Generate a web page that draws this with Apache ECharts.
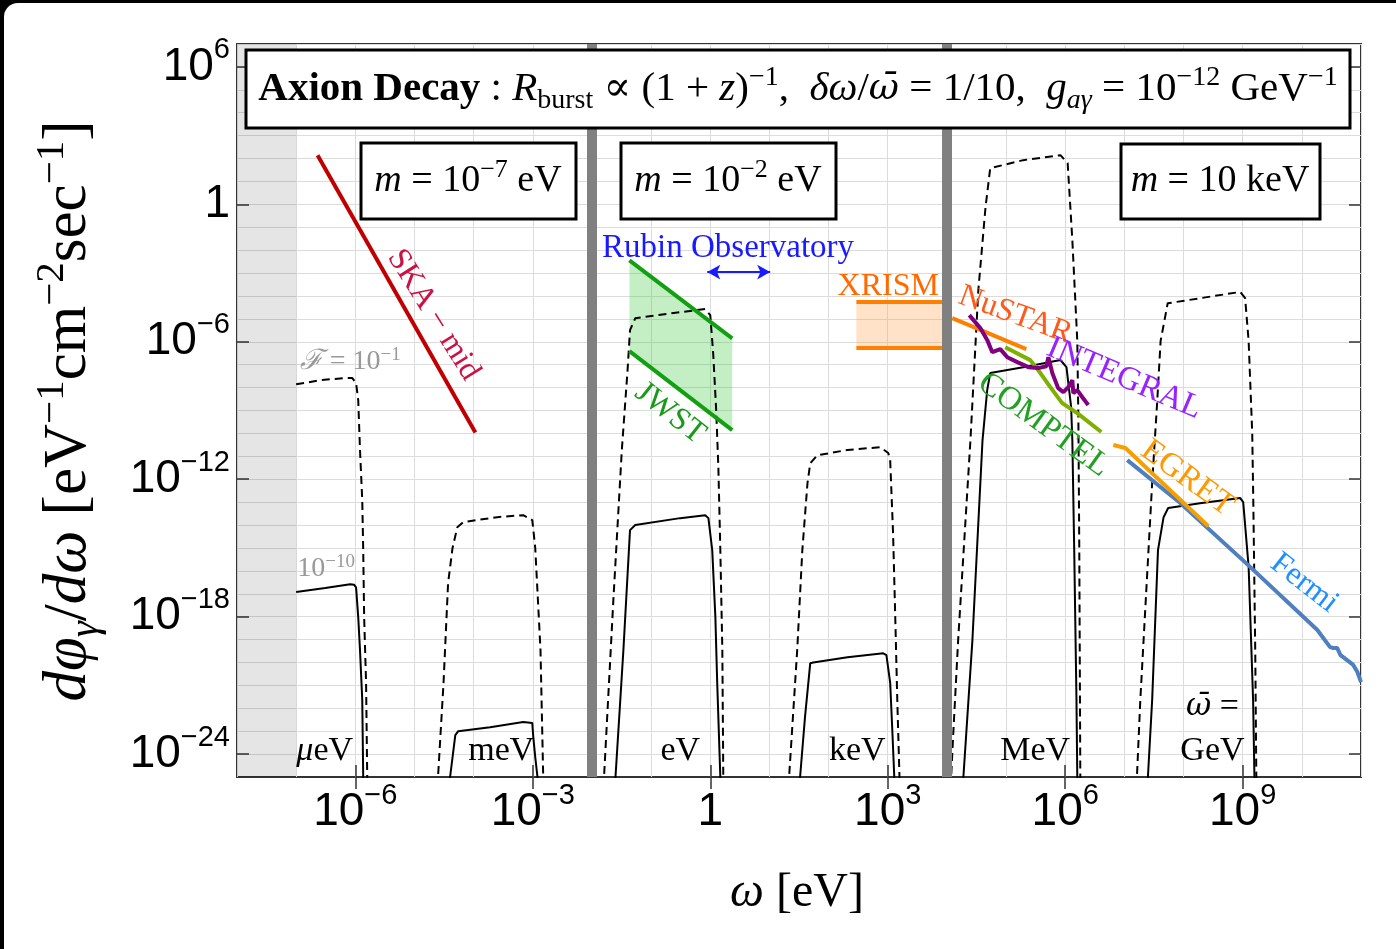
<!DOCTYPE html>
<html><head><meta charset="utf-8">
<script src="https://cdn.jsdelivr.net/npm/echarts@6/dist/echarts.min.js"></script>
<style>
html,body{margin:0;padding:0;background:#000;width:1396px;height:949px;overflow:hidden}
#card{position:absolute;left:4px;top:3px;width:1420px;height:980px;background:#fff;border-radius:14px}
#chart{position:absolute;left:0;top:0;width:1396px;height:949px}
</style></head><body><div id="card"></div><div id="chart"></div>
<script>
// ---------------- data ----------------
const xTicks = [1e-6, 1e-3, 1, 1e3, 1e6, 1e9];
const yTicks = [1e6, 1, 1e-6, 1e-12, 1e-18, 1e-24];
const xRange = [1e-8, 1e11];
const yRange = [1e-25, 1e7];
const excludedBand = [1e-8, 1e-7];
const massDividers = [1e-2, 1e4];

// F = 1e-10 (solid) and F = 1e-1 (dashed) spectra for each mean energy
const ueV_solid = [[1e-7,1.2e-17],[3.1e-7,1.8e-17],[8.2e-7,2.6e-17],[9.5e-7,2.5e-17],[1.03e-6,1.9e-17],[1.12e-6,9.5e-19],[1.2e-6,3.5e-20],[1.31e-6,2.3e-22],[1.36e-6,1e-25],[1.4e-6,1e-26]];
const ueV_dashed = [[1e-7,1.4e-8],[2.6e-7,2.1e-8],[6.3e-7,2.6e-8],[8.9e-7,2.6e-8],[1.03e-6,1.6e-8],[1.12e-6,2.8e-9],[1.2e-6,1.9e-11],[1.31e-6,1.2e-13],[1.36e-6,8e-16],[1.41e-6,9.5e-19],[1.52e-6,1.3e-21],[1.59e-6,1e-25],[1.62e-6,1e-26]];
const meV_solid = [[3.9e-5,1e-26],[4.0e-5,1e-25],[4.9e-5,6.7e-24],[5.5e-5,1e-23],[1.9e-4,1.5e-23],[6.9e-4,2.5e-23],[9.8e-4,2.3e-23],[1.02e-3,5.5e-24],[1.1e-3,7.4e-25],[1.2e-3,1e-25],[1.22e-3,1e-26]];
const meV_dashed = [[2.4e-5,1e-26],[2.5e-5,1e-25],[3.1e-5,1.3e-21],[3.7e-5,2.9e-17],[4.4e-5,1e-15],[5.3e-5,8e-15],[6.7e-5,1.35e-14],[2.5e-4,2.2e-14],[6.9e-4,2.7e-14],[9.8e-4,1.65e-14],[1.1e-3,1e-15],[1.35e-3,3.5e-20],[1.5e-3,1e-25],[1.53e-3,1e-26]];
const eV_solid = [[2.45e-2,1e-26],[2.5e-2,1e-25],[3.4e-2,3.4e-20],[4.4e-2,6e-15],[5.4e-2,1e-14],[0.31,2e-14],[0.82,2.7e-14],[0.93,2e-14],[1.08,8e-16],[1.22,9.5e-19],[1.31,1.3e-21],[1.48,1e-25],[1.5,1e-26]];
const eV_dashed = [[1.55e-2,1e-26],[1.6e-2,1e-25],[2.3e-2,5.2e-18],[3.2e-2,1.9e-11],[4.0e-2,5.8e-8],[4.4e-2,3.2e-6],[5.4e-2,1.07e-5],[0.24,1.8e-5],[0.82,2.7e-5],[1.0,1.45e-5],[1.12,3.2e-7],[1.26,1e-9],[1.37,3.4e-12],[1.48,8e-16],[1.6,3.5e-20],[1.66,1e-25],[1.7,1e-26]];
const keV_solid = [[32,1e-26],[33,1e-25],[40,4.3e-23],[49,9.3e-21],[55,1e-20],[209,1.7e-20],[840,2.5e-20],[950,2.1e-20],[1100,1.3e-21],[1200,8.3e-24],[1290,1e-25],[1310,1e-26]];
const keV_dashed = [[21,1e-26],[21.5,1e-25],[29.5,3.5e-20],[36,8e-16],[44,6.8e-13],[49,5e-12],[64,1.1e-11],[209,1.9e-11],[750,2.5e-11],[1020,1.4e-11],[1100,6.8e-12],[1230,4.5e-15],[1340,9.5e-19],[1450,2.3e-22],[1580,1e-25],[1600,1e-26]];
const MeV_solid = [[1.85e4,1e-26],[1.9e4,1e-25],[2.7e4,9.5e-20],[4.0e4,5e-11],[4.8e4,7.8e-9],[5.4e4,4.3e-8],[1.95e5,7.8e-8],[8.3e5,1.6e-7],[1.05e6,7.8e-8],[1.26e6,1.4e-9],[1.32e6,5e-11],[1.42e6,8e-16],[1.55e6,2.3e-22],[1.6e6,1e-25],[1.62e6,1e-26]];
const MeV_dashed = [[1.15e4,1e-26],[1.18e4,1e-25],[1.29e4,1.1e-23],[1.55e4,9.5e-20],[2.5e4,5e-11],[3.4e4,1.8e-4],[4.5e4,0.76],[5.4e4,38],[1.95e5,85],[8.3e5,140],[1.1e6,63],[1.32e6,0.027],[1.6e6,1.1e-6],[1.67e6,3.8e-10],[1.73e6,8e-16],[1.8e6,1e-25],[1.82e6,1e-26]];
const GeV_solid = [[2.45e7,1e-26],[2.5e7,1e-25],[2.95e7,2.3e-22],[3.7e7,8e-16],[4.6e7,2.2e-14],[5.5e7,5.5e-14],[1.9e8,9e-14],[9.1e8,1.5e-13],[1.02e9,1e-13],[1.26e9,1.5e-16],[1.5e9,2.3e-22],[1.58e9,1e-25],[1.6e9,1e-26]];
const GeV_dashed = [[1.6e7,1e-26],[1.63e7,1e-25],[1.86e7,2.3e-22],[2.95e7,6.8e-13],[3.6e7,2.8e-9],[4.1e7,1.1e-6],[5.4e7,4.8e-5],[2.5e8,8.9e-5],[9.1e8,1.5e-4],[1.1e9,8e-5],[1.26e9,1.1e-6],[1.45e9,1e-10],[1.51e9,1.3e-13],[1.63e9,3.5e-20],[1.7e9,1e-25],[1.72e9,1e-26]];

// instrument sensitivities
const ska = [[2.3e-7,140],[1.07e-4,1.1e-10]];
const jwstUpper = [[0.043,3.6e-3],[2.35,1.4e-6]];
const jwstLower = [[0.043,3.9e-7],[2.35,1.4e-10]];
const rubinRange = [[0.89,1.1e-3],[10.3,1.1e-3]];
const xrismUpper = [[295,5.4e-5],[8300,5.4e-5]];
const xrismLower = [[295,5.3e-7],[8300,5.3e-7]];
const nustar = [[1.23e4,1.07e-5],[2.2e5,4.8e-7]];
const integral = [[2.39e4,1.46e-5],[3.67e4,3.96e-6],[4.82e4,1.18e-6],[5.85e4,3.5e-7],[8.0e4,4.8e-7],[1.05e5,2.1e-7],[1.55e5,1.29e-7],[2.38e5,7.8e-8],[3.5e5,7.1e-8],[4.8e5,8.6e-8],[5.2e5,2.1e-7],[6.05e5,4.3e-8],[7.6e5,9.5e-9],[9.3e5,6.3e-9],[1.13e6,1.05e-8],[1.32e6,2.1e-8],[1.37e6,5.7e-9],[1.6e6,7.8e-9],[1.95e6,3.8e-9],[2.45e6,1.74e-9]];
const comptel = [[9.7e4,5.8e-7],[2.57e5,1.58e-7],[3.8e5,4.3e-8],[5.6e5,1.05e-8],[8.9e5,2.1e-9],[1.6e6,7.7e-10],[4.07e6,1.15e-10]];
const egret = [[6.5e6,3.1e-11],[1.04e7,2.3e-11],[2.63e8,8.9e-15]];
const fermi = [[1.12e7,6.8e-12],[8.8e7,9.1e-14],[1.35e9,1.45e-16],[1.83e10,2.6e-19],[3.0e10,4.7e-20],[3.4e10,4.3e-20],[3.95e10,4.3e-20],[4.5e10,2.1e-20],[5.0e10,1.7e-20],[7.4e10,7.8e-21],[8.7e10,3.8e-21],[1e11,1.38e-21]];

// ---------------- styling / layout ----------------
const SERIF = '"Liberation Serif","DejaVu Serif",serif';
const SANS = '"Liberation Sans Narrow","Liberation Sans",Arial,sans-serif';
const BAR = '"DejaVu Serif",serif';

function makeRich(size, color, bold) {
  const pad = Math.round(size * 0.12);
  const small = Math.round(size * 0.68);
  const base = {color, textBorderWidth: 0, textBorderColor: 'transparent', textShadowBlur: 0};
  return {
    rm: Object.assign({fontFamily: SERIF, fontSize: size, padding: [pad, 0, pad, 0]}, base),
    it: Object.assign({fontFamily: SERIF, fontStyle: 'italic', fontSize: size, padding: [pad, 0, pad, 0]}, base),
    wb: Object.assign({fontFamily: BAR, fontStyle: 'italic', fontSize: Math.round(size * 0.9), padding: [pad, 0, pad, 0]}, base),
    bd: Object.assign({fontFamily: SERIF, fontWeight: 'bold', fontSize: bold || size, padding: [pad, 0, pad, 0]}, base),
    sp: Object.assign({fontFamily: SERIF, fontSize: small, verticalAlign: 'top'}, base),
    sb: Object.assign({fontFamily: SERIF, fontSize: small, verticalAlign: 'bottom'}, base),
    sbi: Object.assign({fontFamily: SERIF, fontStyle: 'italic', fontSize: small, verticalAlign: 'bottom'}, base)
  };
}

const tickRich = {
  nb: {fontFamily: SANS, fontSize: 46, color: '#000', padding: [8, 0, 8, 0]},
  ns: {fontFamily: SANS, fontSize: 29, color: '#000', verticalAlign: 'top'}
};
function powLabel(v) {
  const e = Math.round(Math.log10(v));
  if (e === 0) return '{nb|1}';
  return '{nb|10}{ns|' + (e < 0 ? '\u2212' + (-e) : String(e)) + '}';
}

const annotations = [
  {text: '{rm|SKA \u2212 mid}', at: [2.1e-5, 1.48e-5], rot: -58, color: '#cc1144', size: 32},
  {text: '{rm|Rubin Observatory}', at: [2.0, 1.2e-2], rot: 0, color: '#1a1aff', size: 33},
  {text: '{rm|JWST}', at: [0.21, 7.6e-10], rot: -38, color: '#1a9a1a', size: 32},
  {text: '{rm|XRISM}', at: [1020, 2.5e-4], rot: 0, color: '#ff6a00', size: 32},
  {text: '{rm|NuSTAR}', at: [1.44e5, 1.45e-5], rot: -20, color: '#ff5a1a', size: 32},
  {text: '{rm|INTEGRAL}', at: [1.0e7, 2.5e-8], rot: -23, color: '#9922ff', size: 33},
  {text: '{rm|COMPTEL}', at: [4.3e5, 2.3e-10], rot: -36, color: '#22a022', size: 33},
  {text: '{rm|EGRET}', at: [1.16e8, 1.1e-12], rot: -36, color: '#ff9900', size: 33},
  {text: '{rm|Fermi}', at: [1.1e10, 2.9e-17], rot: -38, color: '#1e90ff', size: 32},
  {text: '{it|\u2131}{rm| = 10}{sp|\u22121}', at: [8.2e-7, 1.3e-7], rot: 0, color: '#999999', size: 28},
  {text: '{rm|10}{sp|\u221210}', at: [3.2e-7, 1.2e-16], rot: 0, color: '#999999', size: 28},
  {text: '{it|\u03bc}{rm|eV}', at: [3.04e-7, 1.35e-24], rot: 0, color: '#000', size: 34},
  {text: '{rm|meV}', at: [2.93e-4, 1.35e-24], rot: 0, color: '#000', size: 34},
  {text: '{rm|eV}', at: [0.311, 1.35e-24], rot: 0, color: '#000', size: 34},
  {text: '{rm|keV}', at: [306, 1.35e-24], rot: 0, color: '#000', size: 34},
  {text: '{rm|MeV}', at: [3.1e5, 1.35e-24], rot: 0, color: '#000', size: 34},
  {text: '{rm|GeV}', at: [3.08e8, 1.35e-24], rot: 0, color: '#000', size: 34},
  {text: '{wb|\u03c9\u0304}{rm| =}', at: [3.08e8, 1.1e-22], rot: 0, color: '#000', size: 34}
];

function curve(data, dashed) {
  return {type: 'line', data, xAxisIndex: 0, yAxisIndex: 0, symbol: 'none', showSymbol: false,
    silent: true, z: 3, clip: true,
    lineStyle: {color: '#000', width: 2, type: dashed ? [8, 5] : 'solid'}};
}
function inst(data, color, width, z) {
  return {type: 'line', data, xAxisIndex: 0, yAxisIndex: 0, symbol: 'none', showSymbol: false,
    silent: true, z: z || 4, clip: true, lineStyle: {color, width: width || 4}};
}
function polyFill(points, color) {
  return {type: 'custom', xAxisIndex: 0, yAxisIndex: 0, silent: true, z: 2, clip: true,
    data: points, encode: {x: 0, y: 1},
    renderItem: (params, api) => params.dataIndex === 0 ? {
      type: 'polygon', shape: {points: points.map(p => api.coord(p))}, style: {fill: color}
    } : null};
}

const tickStyle = {show: true, inside: true, length: 12, lineStyle: {color: '#333', width: 1.5}};
function logAxis(range, extra) {
  return Object.assign({type: 'log', logBase: 10, min: range[0], max: range[1],
    axisLine: {show: false}, splitLine: {show: false}, axisTick: {show: false}, axisLabel: {show: false}}, extra);
}

const chart = echarts.init(document.getElementById('chart'), null, {renderer: 'canvas'});

const series = [
  {type: 'line', data: [], xAxisIndex: 0, yAxisIndex: 0, silent: true, z: 1,
    markArea: {silent: true, itemStyle: {color: 'rgba(0,0,0,0.1)'},
      data: [[{xAxis: excludedBand[0]}, {xAxis: excludedBand[1]}]]}},
  polyFill([...jwstUpper, ...jwstLower.slice().reverse()], 'rgba(60,200,60,0.3)'),
  polyFill([...xrismUpper, ...xrismLower.slice().reverse()], 'rgba(255,160,70,0.3)'),
  curve(ueV_solid, false), curve(ueV_dashed, true),
  curve(meV_solid, false), curve(meV_dashed, true),
  curve(eV_solid, false), curve(eV_dashed, true),
  curve(keV_solid, false), curve(keV_dashed, true),
  curve(MeV_solid, false), curve(MeV_dashed, true),
  curve(GeV_solid, false), curve(GeV_dashed, true),
  inst(ska, '#c00000'),
  inst(jwstUpper, '#12a012'), inst(jwstLower, '#12a012'),
  inst(xrismUpper, '#ff8000'), inst(xrismLower, '#ff8000'),
  inst(nustar, '#ff8000'),
  inst(comptel, '#7fb000'),
  inst(integral, '#800080'),
  inst(fermi, '#4f7fbf'),
  inst(egret, '#f5a000', 4, 5),
  {type: 'scatter', xAxisIndex: 0, yAxisIndex: 0, silent: true, z: 6, symbolSize: 1,
    itemStyle: {color: 'rgba(0,0,0,0)'},
    labelLayout: {hideOverlap: false},
    data: annotations.map(a => ({value: a.at, label: {show: true, position: 'inside',
      formatter: () => a.text, rotate: a.rot, color: a.color, fontFamily: SERIF, fontSize: a.size,
      textBorderWidth: 0, textBorderColor: 'transparent', textShadowBlur: 0, opacity: 1,
      rich: makeRich(a.size, a.color)}})),
    markLine: {silent: true, symbol: 'none', label: {show: false},
      lineStyle: {color: '#808080', width: 10, type: 'solid'},
      data: massDividers.map(v => ({xAxis: v}))}},
  {type: 'line', data: [], xAxisIndex: 0, yAxisIndex: 0, silent: true, z: 6,
    markLine: {silent: true, symbol: ['arrow', 'arrow'], symbolSize: [11, 13], label: {show: false},
      lineStyle: {color: '#1a1aff', width: 2, type: 'solid'},
      data: [[{coord: rubinRange[0]}, {coord: rubinRange[1]}]]}}
];

const option = {
  animation: false,
  backgroundColor: 'transparent',
  grid: {left: 237, right: 35, top: 44, bottom: 172, show: true, borderColor: '#333', borderWidth: 2,
    backgroundColor: 'transparent', containLabel: false, outerBoundsMode: 'none'},
  xAxis: [
    logAxis(xRange, {position: 'bottom', axisTick: Object.assign({customValues: xTicks}, tickStyle),
      axisLabel: {show: true, customValues: xTicks, formatter: powLabel, rich: tickRich, margin: 4}}),
    logAxis(xRange, {position: 'top', axisTick: Object.assign({customValues: xTicks}, tickStyle)}),
    logAxis(xRange, {position: 'bottom', interval: 1, splitLine: {show: true, lineStyle: {color: '#dcdcdc', width: 1}}})
  ],
  yAxis: [
    logAxis(yRange, {position: 'left', axisTick: Object.assign({customValues: yTicks}, tickStyle),
      axisLabel: {show: true, customValues: yTicks, formatter: powLabel, rich: tickRich, margin: 7}}),
    logAxis(yRange, {position: 'right', axisTick: Object.assign({customValues: yTicks}, tickStyle)}),
    logAxis(yRange, {position: 'left', interval: 1, splitLine: {show: true, lineStyle: {color: '#dcdcdc', width: 1}}})
  ],
  series,
  graphic: [
    {type: 'rect', z: 100, shape: {x: 246, y: 50, width: 1104, height: 78}, style: {fill: '#fff', stroke: '#000', lineWidth: 3}},
    {type: 'text', z: 101, x: 798, y: 89, style: {align: 'center', verticalAlign: 'middle',
      text: '{bd|Axion Decay}{rm| : }{it|R}{sb|burst}{rm| \u221d (1 + }{it|z}{rm|)}{sp|\u22121}{rm|,  }{it|\u03b4\u03c9}{rm|/}{wb|\u03c9\u0304}{rm| = 1/10,  }{it|g}{sbi|a\u03b3}{rm| = 10}{sp|\u221212}{rm| GeV}{sp|\u22121}',
      rich: makeRich(41, '#000', 41)}},
    {type: 'rect', z: 100, shape: {x: 361, y: 143, width: 215, height: 76}, style: {fill: '#fff', stroke: '#000', lineWidth: 3}},
    {type: 'rect', z: 100, shape: {x: 621, y: 143, width: 215, height: 76}, style: {fill: '#fff', stroke: '#000', lineWidth: 3}},
    {type: 'rect', z: 100, shape: {x: 1121, y: 144, width: 199, height: 75}, style: {fill: '#fff', stroke: '#000', lineWidth: 3}},
    {type: 'text', z: 101, x: 468, y: 181, style: {align: 'center', verticalAlign: 'middle',
      text: '{it|m}{rm| = 10}{sp|\u22127}{rm| eV}', rich: makeRich(38, '#000')}},
    {type: 'text', z: 101, x: 728, y: 181, style: {align: 'center', verticalAlign: 'middle',
      text: '{it|m}{rm| = 10}{sp|\u22122}{rm| eV}', rich: makeRich(38, '#000')}},
    {type: 'text', z: 101, x: 1220, y: 181, style: {align: 'center', verticalAlign: 'middle',
      text: '{it|m}{rm| = 10 keV}', rich: makeRich(38, '#000')}},
    {type: 'text', z: 101, x: 69, y: 411, rotation: Math.PI / 2, style: {align: 'center', verticalAlign: 'middle',
      text: '{it|d\u03c6}{sbi|\u03b3}{rm|/}{it|d\u03c9}{rm| [eV}{sp|\u22121}{rm|cm}{sp|\u22122}{rm|sec}{sp|\u22121}{rm|]}',
      rich: makeRich(61, '#000')}},
    {type: 'text', z: 101, x: 797, y: 893, style: {align: 'center', verticalAlign: 'middle',
      text: '{it|\u03c9}{rm| [eV]}', rich: makeRich(48, '#000')}}
  ]
};
chart.setOption(option);
</script></body></html>
